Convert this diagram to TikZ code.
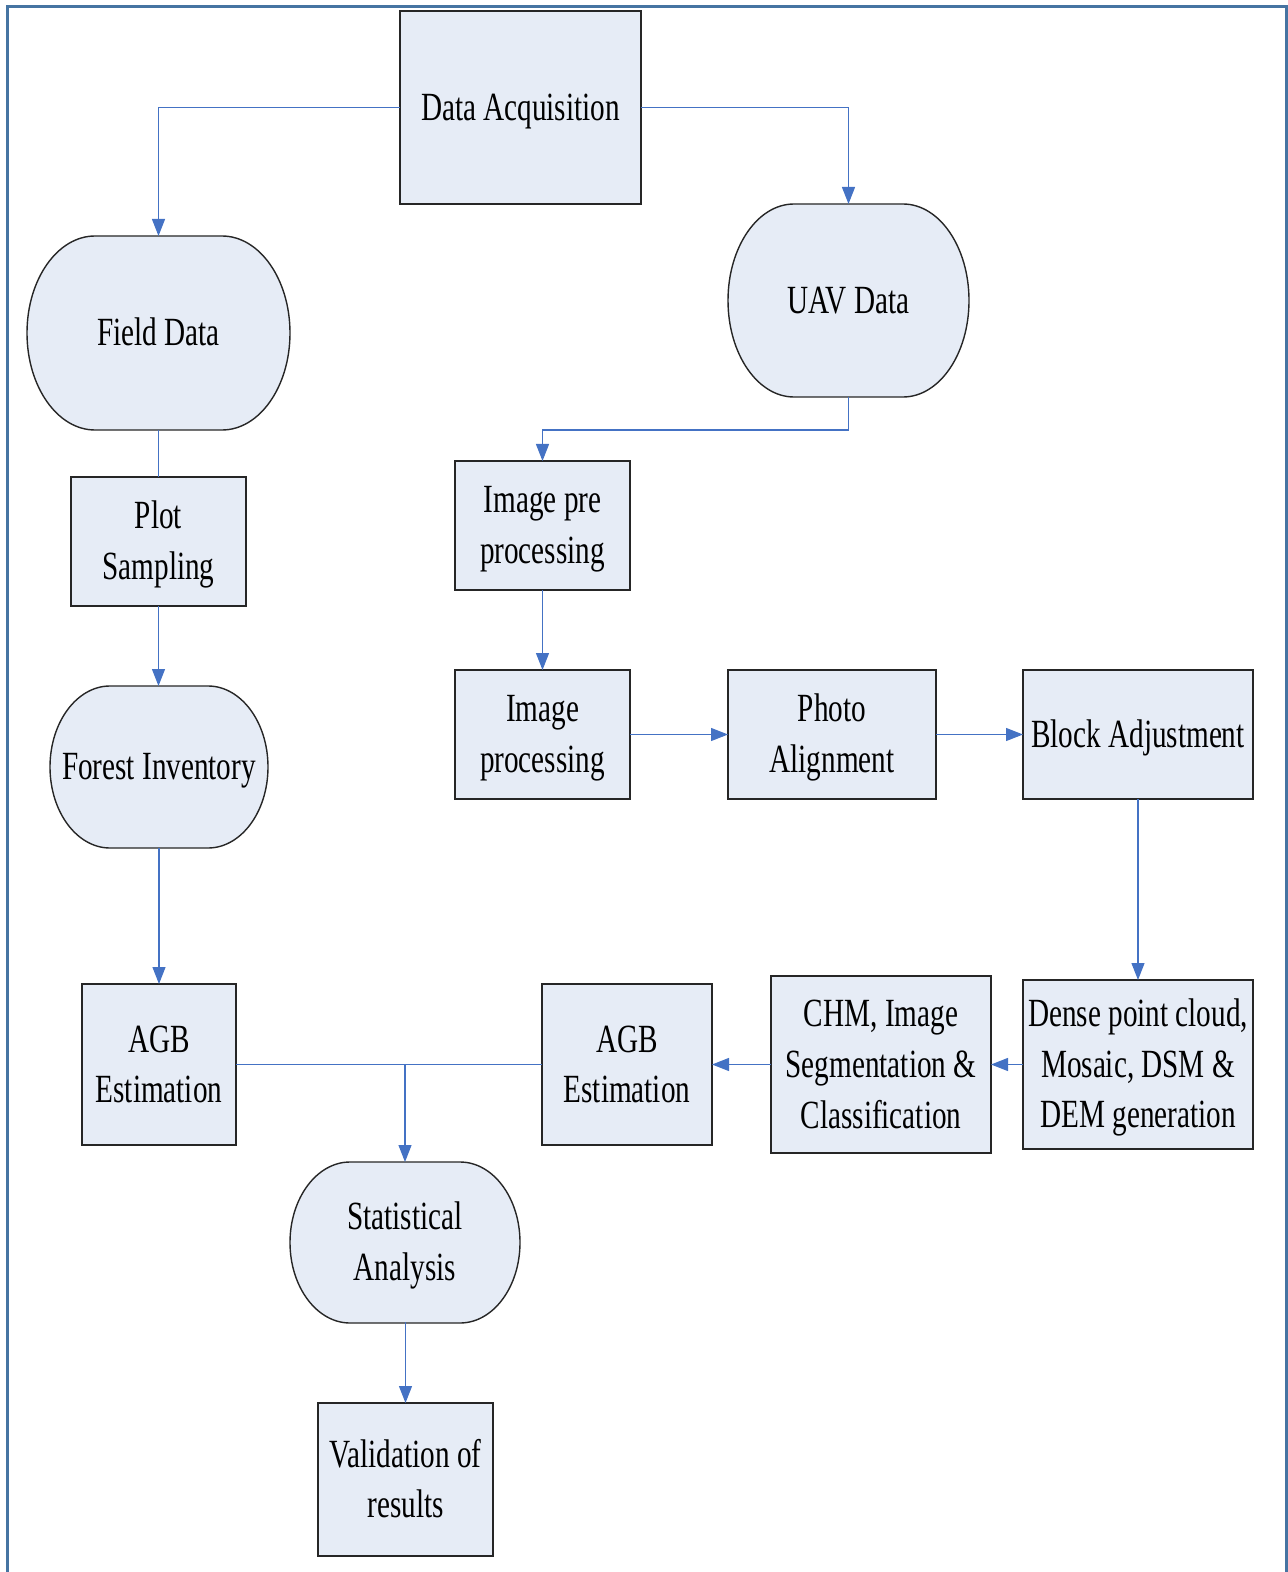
\documentclass[tikz,border=0pt]{standalone}
\usepackage{fontspec}
\setmainfont{Liberation Serif}[FakeStretch=0.73]
\usetikzlibrary{arrows.meta,backgrounds}
\definecolor{framec}{RGB}{70,116,162}
\definecolor{linec}{RGB}{68,114,196}
\definecolor{boxfill}{RGB}{230,236,246}
\newcommand{\topstr}{\rule{0pt}{17pt}}
\newcommand{\botstr}{\rule[-4pt]{0pt}{4pt}}
\newcommand{\termoutline}[3]{%
  \draw[termshape] ([xshift=#2]#1.north west) -- ([xshift=-#2]#1.north east)
    arc[start angle=90,end angle=-90,x radius=#2,y radius=#3]
    -- ([xshift=#2]#1.south west)
    arc[start angle=270,end angle=90,x radius=#2,y radius=#3] -- cycle;}
\begin{document}
\begin{tikzpicture}[x=0.5pt,y=-0.5pt,
  txt/.style={align=center, inner sep=0pt, outer sep=0pt, font=\fontsize{20}{25.3}\selectfont},
  box/.style={txt, draw=black!85, fill=boxfill, line width=0.7pt},
  term/.style={txt},
  termshape/.style={draw=black!85, fill=boxfill, line width=0.7pt},
  conn/.style={draw=linec, line width=0.6pt},
  arr/.style={conn, -{Triangle[length=8.5pt,width=6.5pt]}}]
\useasboundingbox (0,0) rectangle (1288,1572);
\draw[framec, line width=1.5pt] (7.5,1572) -- (7.5,7) -- (1286.5,7) -- (1286.5,1572);

% nodes
\node[box, minimum width=120.5pt, minimum height=96.5pt] (DA) at (520.5,107.5) {\topstr Data Acquisition\botstr};
\node[term, minimum width=131.5pt, minimum height=97pt] (FD) at (158.5,333) {\topstr Field Data\botstr};
\node[term, minimum width=120.5pt, minimum height=96.5pt] (UAV) at (848.5,300.5) {\topstr UAV Data\botstr};
\node[box, minimum width=87.5pt, minimum height=64.5pt] (IPP) at (542.5,525.5) {\topstr Image pre\\processing\botstr};
\node[box, minimum width=87.5pt, minimum height=64.5pt] (PS) at (158.5,541.5) {\topstr Plot\\Sampling\botstr};
\node[box, minimum width=87.5pt, minimum height=64.5pt] (IP) at (542.5,734.5) {\topstr Image\\processing\botstr};
\node[box, minimum width=104pt, minimum height=64.5pt] (PA) at (832,734.5) {\topstr Photo\\Alignment\botstr};
\node[box, minimum width=115pt, minimum height=64.5pt] (BA) at (1138,734.5) {\topstr Block Adjustment\botstr};
\node[term, minimum width=109pt, minimum height=81pt] (FI) at (159,767) {\topstr Forest Inventory\botstr};
\node[box, minimum width=115pt, minimum height=84.5pt] (DPC) at (1138,1064.5) {\topstr Dense point cloud,\\Mosaic, DSM \&\\DEM generation\botstr};
\node[box, minimum width=110pt, minimum height=88.5pt] (CHM) at (881,1064.5) {\topstr CHM, Image\\Segmentation \&\\Classification\botstr};
\node[box, minimum width=85pt, minimum height=80.5pt] (AGBR) at (627,1064.5) {\topstr AGB\\Estimation\botstr};
\node[box, minimum width=77pt, minimum height=80.5pt] (AGBL) at (159,1064.5) {\topstr AGB\\Estimation\botstr};
\node[term, minimum width=115pt, minimum height=80.5pt] (SA) at (405,1242.5) {\topstr Statistical\\Analysis\botstr};
\node[box, minimum width=87.5pt, minimum height=76.5pt] (VR) at (405.5,1479.5) {\topstr Validation of\\results\botstr};

\begin{scope}[on background layer]
\termoutline{FD}{34pt}{48.5pt}
\termoutline{UAV}{33pt}{48.25pt}
\termoutline{FI}{30pt}{40.5pt}
\termoutline{SA}{30pt}{40.25pt}
\end{scope}

% connectors
\coordinate (k1) at (848.5,430);
\draw[arr] (DA.west) -| (FD.north);
\draw[arr] (DA.east) -| (UAV.north);
\draw[arr] (UAV.south) -- (k1) -| (IPP.north);
\draw[conn] (FD.south) -- (FD.south |- PS.north);
\draw[arr] (PS.south) -- (PS.south |- FI.north);
\draw[arr] (IPP.south) -- (IP.north);
\draw[arr] (IP.east) -- (PA.west);
\draw[arr] (PA.east) -- (BA.west);
\draw[arr] (BA.south) -- (DPC.north);
\draw[arr] (DPC.west) -- (CHM.east);
\draw[arr] (CHM.west) -- (AGBR.west -| AGBR.east);
\draw[arr] (FI.south) -- (FI.south |- AGBL.north);
\draw[conn] (AGBL.east) -- (AGBR.west);
\draw[arr] (AGBL.east -| SA.north) -- (SA.north);
\draw[arr] (SA.south) -- (SA.south -| VR.north) -- (VR.north);
\end{tikzpicture}
\end{document}
